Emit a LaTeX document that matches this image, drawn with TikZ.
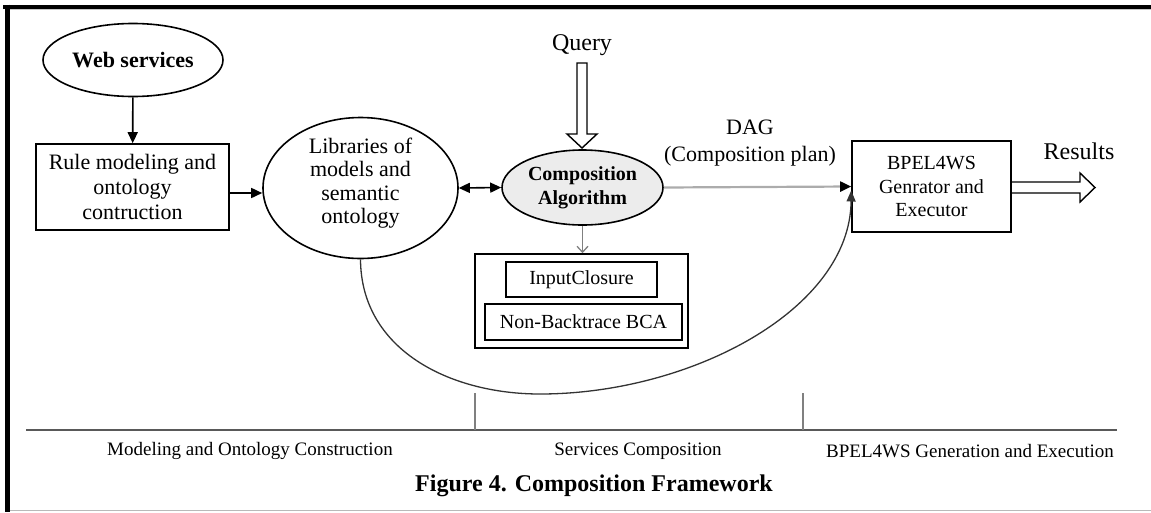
\documentclass[tikz,border=0pt]{standalone}
\usepackage{fontspec}
\setmainfont{Liberation Serif}
\usetikzlibrary{arrows.meta,shapes.geometric,calc}
\begin{document}
\begin{tikzpicture}[x=1pt,y=-1pt,
  box/.style={draw, line width=1.6pt, align=center, inner sep=0pt},
  ell/.style={draw, ellipse, line width=1.6pt, align=center, inner sep=0pt},
  txt/.style={align=center, inner sep=0pt},
  tri/.style={-{Triangle[length=11pt,width=10pt]}},
  fs/.style={font=\fontsize{#1}{#1}\selectfont},
]
\useasboundingbox (0,0) rectangle (1151,512);
% frame
\draw[gray!45, line width=1pt] (9,9.5) -- (1151,9.5);
\draw[line width=4pt] (3,6.5) -- (1151,6.5);
\draw[line width=5pt] (7.5,4.5) -- (7.5,512);
\draw[gray!55, line width=1.5pt] (10,510.5) -- (1151,510.5);

% nodes
\node[ell, minimum width=180pt, minimum height=73pt, font=\bfseries\fontsize{22}{26}\selectfont] (web) at (133,60) {Web services};
\node[box, minimum width=193pt, minimum height=86pt, font=\fontsize{22}{25}\selectfont] (rule) at (132.5,187) {Rule modeling and\\ontology\\contruction};
\node[ell, minimum width=195pt, minimum height=141pt] (lib) at (360.5,188) {};
\node[txt, font=\fontsize{22}{23.5}\selectfont] (libtxt) at (360.5,183) {Libraries of\\models and\\semantic\\ontology};
\node[ell, fill=gray!15, minimum width=161pt, minimum height=75pt, font=\bfseries\fontsize{20}{24}\selectfont] (comp) at (582.5,187.5) {Composition\\Algorithm};
\node[txt, font=\fontsize{24}{24}\selectfont] (query) at (582,45) {Query};
\node[draw, line width=1.6pt, minimum width=213pt, minimum height=94pt, inner sep=0pt] (algbox) at (581.5,301) {};
\node[box, minimum width=151pt, minimum height=35pt, font=\fontsize{20}{20}\selectfont] (ic) at (581.5,279.5) {InputClosure};
\node[box, minimum width=197pt, minimum height=36pt, font=\fontsize{20}{20}\selectfont] (nb) at (583.5,322) {Non-Backtrace BCA};
\node[box, minimum width=159pt, minimum height=91pt, font=\fontsize{20}{23.5}\selectfont] (bpel) at (931.5,186.5) {BPEL4WS\\Genrator and\\Executor};
\node[txt, font=\fontsize{22}{27}\selectfont] (dag) at (750,143) {DAG\\(Composition plan)};
\node[txt, font=\fontsize{24}{24}\selectfont] (results) at (1079,151) {Results};

% connectors
\draw[tri, line width=1.6pt] (web) -- (rule);
\draw[tri, line width=1.6pt] ([yshift=-6pt]rule.east) -- ([yshift=-5pt]lib.west);
\draw[{Triangle[length=11pt,width=10pt]}-{Triangle[length=11pt,width=10pt]}, line width=1.6pt] (lib.east) -- (comp.west);
\draw[gray!65, line width=2.2pt, -{Triangle[length=11pt,width=10pt,black]}] (comp.east) -- (bpel.west);
\draw[gray, line width=1.3pt, -{Straight Barb[length=6pt,width=11pt]}] (comp.south) -- (comp.south |- algbox.north);
\coordinate (cbot) at (540,394);
\draw[black!80, line width=1.3pt, -{Triangle[length=11pt,width=9pt]}] (lib.south) .. controls (361,350) and (450,394) .. (cbot)
  .. controls (690,394) and (850,310) .. ([yshift=-4pt]bpel.west);

% hollow arrows
\draw[line width=1.4pt, fill=white] (577,63) -- (577,134) -- (567,134) -- (582,148) -- (597,134) -- (587,134) -- (587,63) -- cycle;
\draw[line width=1.4pt] (bpel.east |- 0,182) -- (1080,182) -- (1080,173) -- (1095,187.5) -- (1080,202) -- (1080,193) -- (bpel.east |- 0,193);

% bottom section
\draw[black!65, line width=1.5pt] (26,430) -- (1117,430);
\draw[gray, line width=1.2pt] (475,393) -- (475,430);
\draw[gray, line width=1.2pt] (803,393) -- (803,430);
\node[txt, fs=19] (l1) at (250,451) {Modeling and Ontology Construction};
\node[txt, fs=19] (l2) at (638,451) {Services Composition};
\node[txt, fs=19] (l3) at (970,451) {BPEL4WS Generation and Execution};
\node[txt, font=\bfseries\fontsize{24}{24}\selectfont] (cap) at (594,486) {Figure 4. Composition Framework};
\end{tikzpicture}
\end{document}
